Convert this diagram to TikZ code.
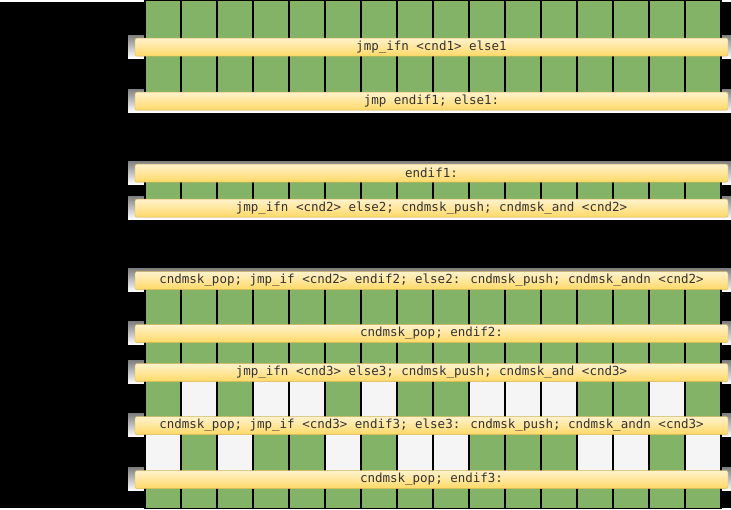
\documentclass[tikz,border=0pt]{standalone}
\usepackage{fontspec}
\newfontfamily\codefont{DejaVu Sans Mono}
\definecolor{cellgreen}{HTML}{82B366}
\definecolor{cellwhite}{HTML}{F5F5F5}
\definecolor{bartop}{HTML}{FFF2CC}
\definecolor{barbot}{HTML}{FFD966}
\definecolor{barline}{HTML}{D6B656}
\definecolor{shade}{HTML}{B3B3B3}
\definecolor{codetext}{HTML}{333333}

\begin{document}
\begin{tikzpicture}[x=1pt,y=-1pt,
  cell/.style = {fill=cellgreen, draw=black, line width=1.2pt},
  blank/.style = {cell, fill=cellwhite},
  bar/.style = {rounded corners=2pt, top color=bartop, bottom color=barbot, draw=barline,
    minimum width=593pt, minimum height=18pt, inner sep=0pt, text=codetext,
    font=\codefont\fontsize{12.5}{14}\selectfont}]
\fill[black] (0,0) rectangle (731,506);
% shadows behind the bars
\foreach \y in {45.5,99.5,171.5,206.5,279,332,371,424,478}
  \fill[shade] (128,\y-12) rectangle (731,\y+11);
% lanes
\foreach \top/\bot in {-1/45.5, 45.5/99.5, 171.5/206.5, 279/332, 332/371, 371/424, 424/478, 478/507}
  \foreach \i in {0,...,15}
    \draw[cell] (145+36*\i,\top) rectangle (181+36*\i,\bot);
\foreach \i in {1,3,4,6,9,10,11,14}
  \draw[blank] (145+36*\i,371) rectangle (181+36*\i,424);
\foreach \i in {0,2,5,7,8,12,13,15}
  \draw[blank] (145+36*\i,424) rectangle (181+36*\i,478);
% instructions
\foreach \y/\t [count=\n] in {
    45.5/{jmp\_ifn <cnd1> else1},
    99.5/{jmp endif1; else1:},
    171.5/{endif1:},
    206.5/{jmp\_ifn <cnd2> else2; cndmsk\_push; cndmsk\_and <cnd2>},
    279/{cndmsk\_pop; jmp\_if <cnd2> endif2; else2: cndmsk\_push; cndmsk\_andn <cnd2>},
    332/{cndmsk\_pop; endif2:},
    371/{jmp\_ifn <cnd3> else3; cndmsk\_push; cndmsk\_and <cnd3>},
    424/{cndmsk\_pop; jmp\_if <cnd3> endif3; else3: cndmsk\_push; cndmsk\_andn <cnd3>},
    478/{cndmsk\_pop; endif3:}}
  \node[bar] (bar\n) at (431.5,\y) {\t};
\end{tikzpicture}
\end{document}
